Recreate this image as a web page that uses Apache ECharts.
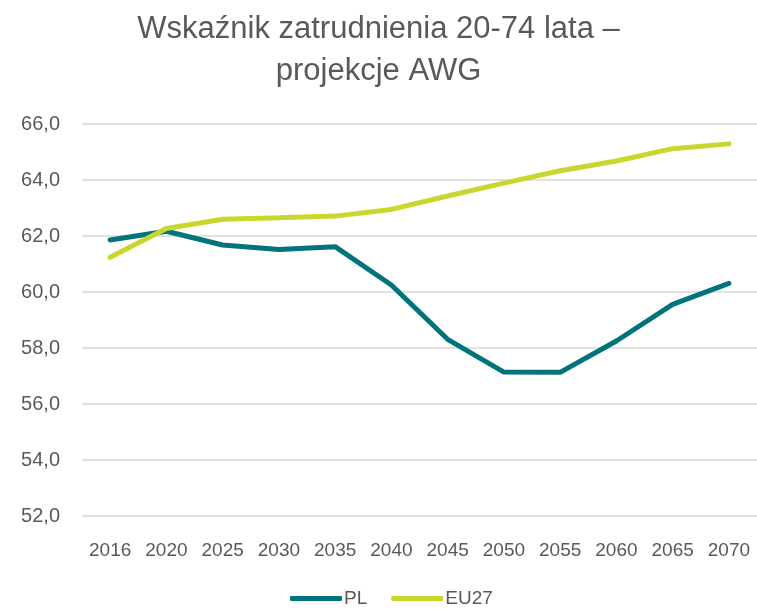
<!DOCTYPE html>
<html>
<head>
<meta charset="utf-8">
<script src="https://cdn.jsdelivr.net/npm/echarts@6/dist/echarts.min.js"></script>
<style>
  html, body { margin: 0; padding: 0; background: #fff; }
  #box { width: 757px; height: 609px; }
</style>
</head>
<body>
<div id="box"></div>
<script>
  // dane
  var years = ['2016', '2020', '2025', '2030', '2035', '2040', '2045', '2050', '2055', '2060', '2065', '2070'];
  var plValues = [61.86, 62.17, 61.68, 61.52, 61.62, 60.25, 58.31, 57.14, 57.13, 58.25, 59.56, 60.31];
  var eu27Values = [61.24, 62.27, 62.6, 62.65, 62.71, 62.95, 63.43, 63.89, 64.33, 64.68, 65.12, 65.29];
  var yTicks = { min: 52, max: 66, step: 2 };

  var font = 'Liberation Sans';
  var grey = '#595959';

  var myChart = echarts.init(document.getElementById('box'));

  var option = {
    animation: false,
    title: {
      text: 'Wskaźnik zatrudnienia 20-74 lata –\nprojekcje AWG',
      left: 'center',
      top: 8,
      padding: [0, 0, 0, 6],
      textStyle: {
        fontFamily: font,
        fontSize: 31,
        fontWeight: 'normal',
        color: grey,
        lineHeight: 42
      }
    },
    legend: {
      data: ['PL', 'EU27'],
      top: 589,
      left: 290,
      padding: 0,
      icon: 'roundRect',
      itemWidth: 52,
      itemHeight: 5,
      itemGap: 24,
      textStyle: { fontFamily: font, fontSize: 19, color: grey, padding: [0, 0, 0, -3] }
    },
    grid: {
      left: 82,
      top: 124,
      width: 678,
      bottom: 93,
      containLabel: false
    },
    xAxis: {
      type: 'category',
      data: years,
      boundaryGap: true,
      axisLine: { show: false },
      axisTick: { show: false },
      axisLabel: {
        interval: 0,
        hideOverlap: false,
        margin: 25,
        fontFamily: font,
        fontSize: 19,
        color: grey
      }
    },
    yAxis: {
      type: 'value',
      min: yTicks.min,
      max: yTicks.max,
      interval: yTicks.step,
      axisLine: { show: false },
      axisTick: { show: false },
      axisLabel: {
        margin: 22,
        fontFamily: font,
        fontSize: 20,
        color: grey,
        formatter: function (v) { return v.toFixed(1).replace('.', ','); }
      },
      splitLine: { lineStyle: { color: '#d9d9d9', width: 1.5 } }
    },
    series: [
      {
        name: 'PL',
        type: 'line',
        data: plValues,
        symbol: 'none',
        lineStyle: { color: '#00737d', width: 5, cap: 'round' },
        itemStyle: { color: '#00737d' }
      },
      {
        name: 'EU27',
        type: 'line',
        data: eu27Values,
        symbol: 'none',
        lineStyle: { color: '#c8d62e', width: 5, cap: 'round' },
        itemStyle: { color: '#c8d62e' }
      }
    ]
  };

  myChart.setOption(option);
</script>
</body>
</html>
